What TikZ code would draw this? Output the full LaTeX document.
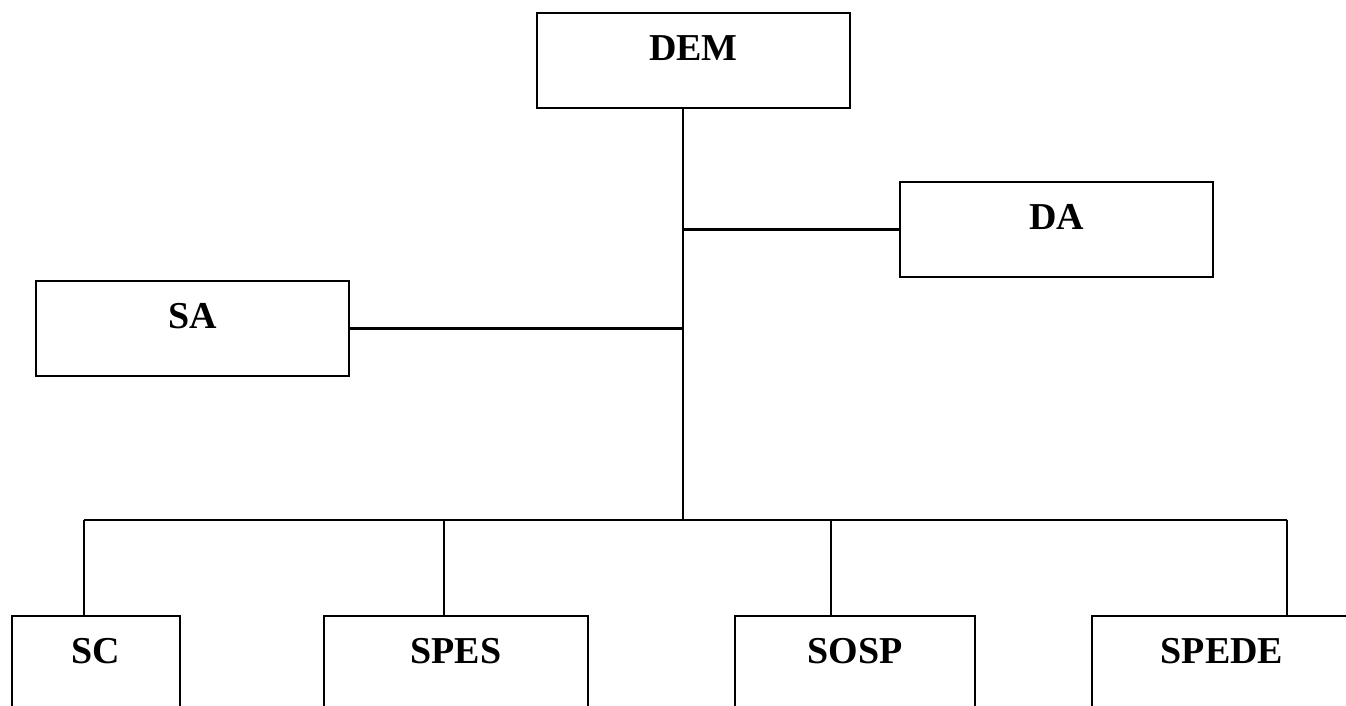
\documentclass[tikz,border=0pt]{standalone}
\usepackage{fontspec}
\setmainfont{Liberation Serif}
\usepackage{tikz}

\tikzset{
	box/.style={draw, line width=1.3pt, rectangle, inner sep=0pt,
		minimum height=47.5pt, text height=23.75pt, text depth=23.75pt,
		font=\fontsize{19}{19}\selectfont\bfseries},
	link/.style={line width=1.2pt}
}

\begin{document}
\begin{tikzpicture}[x=0.5pt,y=-0.5pt]
	\clip (0,0) rectangle (1346,706);
	\useasboundingbox (0,0) rectangle (1346,706);
	\node[box, minimum width=156.5pt] (dem) at (693.5,60.5) {DEM};
	\node[box, minimum width=156.5pt] (da) at (1056.5,229.5) {DA};
	\node[box, minimum width=156.5pt] (sa) at (192.5,328.5) {SA};
	\node[box, minimum width=84pt] (sc) at (96,663.5) {SC};
	\node[box, minimum width=132pt] (spes) at (456,663.5) {SPES};
	\node[box, minimum width=120pt] (sosp) at (855,663.5) {SOSP};
	\node[box, minimum width=130pt] (spede) at (1222,663.5) {SPEDE};
	\coordinate (trunk) at (683,520);
	\coordinate (b1) at (84,520);
	\coordinate (b2) at (444,520);
	\coordinate (b3) at (831,520);
	\coordinate (b4) at (1287,520);
	\draw[link] (dem.south -| trunk)--(trunk);
	\draw[link] (da.west)--(da.west -| trunk);
	\draw[link] (sa.east)--(sa.east -| trunk);
	\draw[link] (b1)--(b4);
	\draw[link] (b1)--(b1 |- sc.north);
	\draw[link] (b2)--(b2 |- spes.north);
	\draw[link] (b3)--(b3 |- sosp.north);
	\draw[link] (b4)--(b4 |- spede.north);
\end{tikzpicture}
\end{document}
